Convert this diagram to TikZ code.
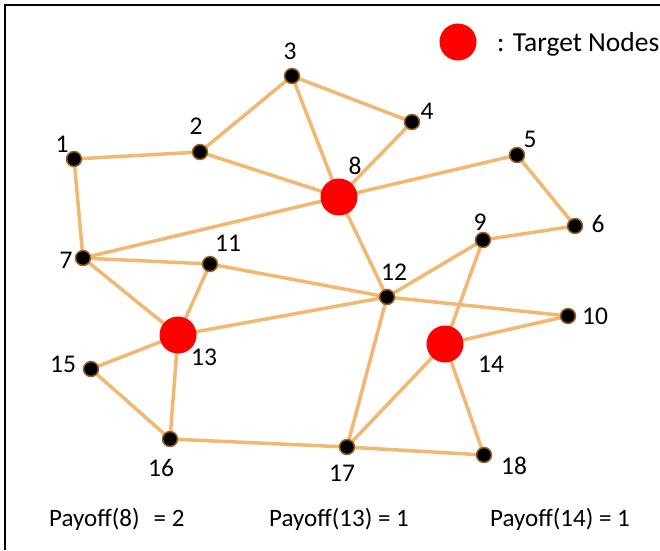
\documentclass[tikz,border=0pt]{standalone}
\usepackage{fontspec}
\setmainfont{Carlito}
\definecolor{edgeorange}{HTML}{F2B871}
\definecolor{rimbrown}{HTML}{9A6420}
\definecolor{targetred}{HTML}{FF0000}
\pgfdeclarelayer{edges}
\pgfsetlayers{edges,main}
\begin{document}
\begin{tikzpicture}[x=1pt,y=-1pt,
  plain/.style={circle,fill=black,draw=rimbrown,line width=1.5pt,minimum size=15pt,inner sep=0pt},
  target/.style={circle,fill=targetred,minimum size=37pt,inner sep=0pt},
  num/.style={inner sep=0pt,font=\fontsize{25.5}{30}\selectfont},
  link/.style={draw=edgeorange,line width=3.5pt},
  caption/.style={inner sep=0pt,anchor=base west,font=\fontsize{25}{30}\selectfont}]
\useasboundingbox (0,0) rectangle (660,550);
% frame (top and left edges)
\draw[line width=2.5pt] (660,5) -- (5,5) -- (5,550);

% vertices
\node[plain]  (n1)  at (74,159) {};
\node[plain]  (n2)  at (200,152) {};
\node[plain]  (n3)  at (292,76) {};
\node[plain]  (n4)  at (412,122) {};
\node[plain]  (n5)  at (517,155) {};
\node[plain]  (n6)  at (575,226) {};
\node[plain]  (n7)  at (83,258) {};
\node[target] (n8)  at (339,197) {};
\node[plain]  (n9)  at (483,240) {};
\node[plain]  (n10) at (568,316) {};
\node[plain]  (n11) at (210,264) {};
\node[plain]  (n12) at (387,297) {};
\node[target] (n13) at (178,335) {};
\node[target] (n14) at (445,344) {};
\node[plain]  (n15) at (91,369) {};
\node[plain]  (n16) at (170,439) {};
\node[plain]  (n17) at (347,447) {};
\node[plain]  (n18) at (484,455) {};

% edges, drawn under the vertices
\begin{pgfonlayer}{edges}
\foreach \a/\b in {n1/n2,n1/n7,n2/n3,n2/n8,n3/n4,n3/n8,n4/n8,n5/n8,n5/n6,n6/n9,
  n7/n8,n7/n11,n7/n13,n11/n12,n11/n13,n8/n12,n12/n9,n12/n10,n12/n13,n12/n17,
  n9/n14,n14/n10,n14/n17,n14/n18,n13/n15,n13/n16,n15/n16,n16/n17,n17/n18}
  \draw[link] (\a.center) -- (\b.center);
\end{pgfonlayer}

% vertex labels
\node[num] (l1)  at (62,144)  {1};
\node[num] (l2)  at (196,126) {2};
\node[num] (l3)  at (290,51)  {3};
\node[num] (l4)  at (427,111) {4};
\node[num] (l5)  at (530,139) {5};
\node[num] (l6)  at (598,224) {6};
\node[num] (l7)  at (66,260)  {7};
\node[num] (l8)  at (355,166) {8};
\node[num] (l9)  at (480,222) {9};
\node[num] (l10) at (595,316) {10};
\node[num] (l11) at (228,243) {11};
\node[num] (l12) at (394,272) {12};
\node[num] (l13) at (204,357) {13};
\node[num] (l14) at (491,364) {14};
\node[num] (l15) at (63,364)  {15};
\node[num] (l16) at (161,468) {16};
\node[num] (l17) at (342,473) {17};
\node[num] (l18) at (514,466) {18};

% legend
\node[target] (key) at (458,42) {};
\node[caption,font=\fontsize{27.5}{32}\selectfont] (keytext) at (497,51) {: Target Nodes};

% payoffs
\node[caption] (p8)  at (49,526)  {Payoff(8)\hspace{14pt}= 2};
\node[caption] (p13) at (269,526) {Payoff(13) = 1};
\node[caption] (p14) at (490,526) {Payoff(14) = 1};
\end{tikzpicture}
\end{document}
